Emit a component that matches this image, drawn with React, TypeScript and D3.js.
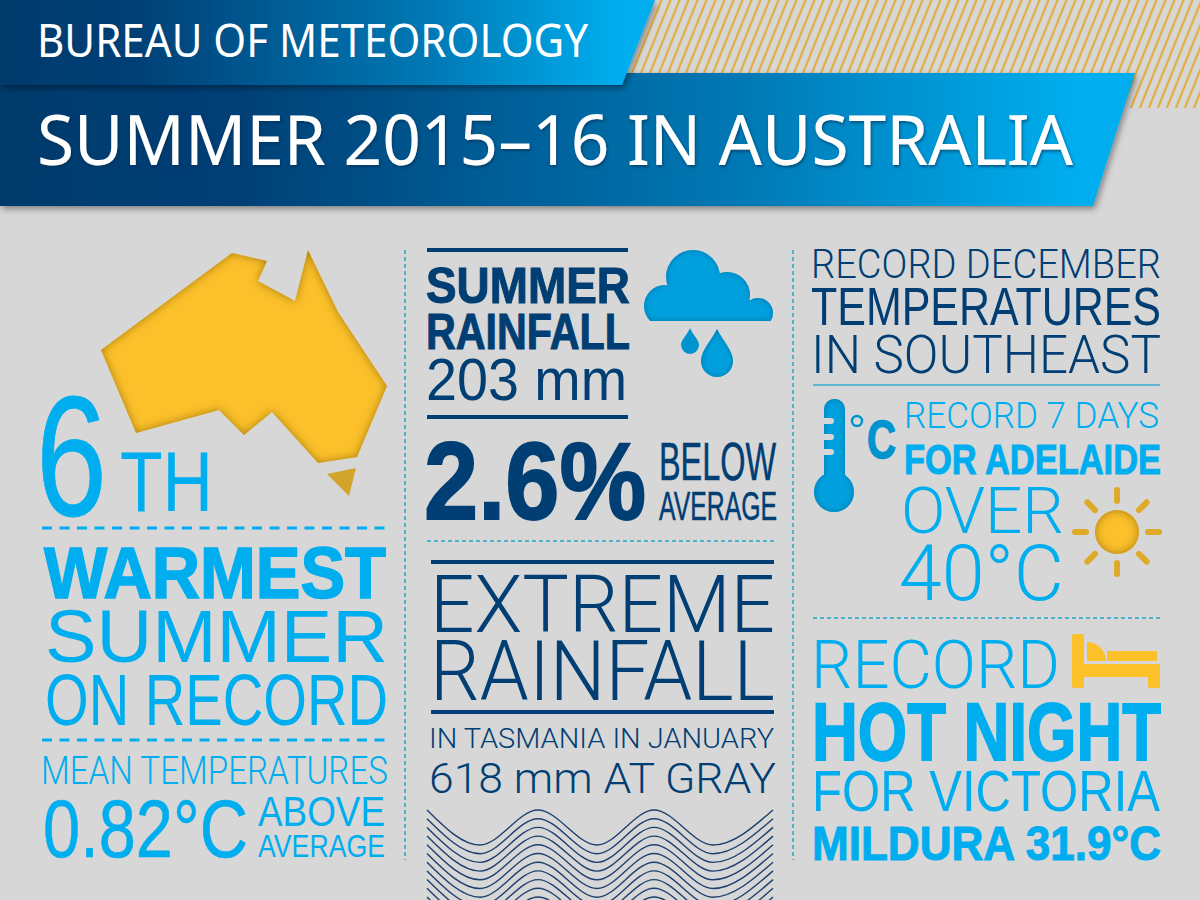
import * as d3 from 'd3';

const headerLines = ['BUREAU OF METEOROLOGY', 'SUMMER 2015–16 IN AUSTRALIA'];
const warmthLines = ['6', 'TH', 'WARMEST', 'SUMMER', 'ON RECORD', 'MEAN TEMPERATURES', '0.82°C', 'ABOVE', 'AVERAGE'];
const rainLines = ['SUMMER', 'RAINFALL', '203 mm', '2.6%', 'BELOW', 'AVERAGE', 'EXTREME', 'RAINFALL', 'IN TASMANIA IN JANUARY', '618 mm AT GRAY'];
const heatLines = ['RECORD DECEMBER', 'TEMPERATURES', 'IN SOUTHEAST', 'C', 'RECORD 7 DAYS', 'FOR ADELAIDE', 'OVER', '40°C', 'RECORD', 'HOT NIGHT', 'FOR VICTORIA', 'MILDURA 31.9°C'];

// icon outlines
const mainland: [number, number][] = [[232, 253], [267, 261], [258, 281], [295, 301], [308, 250], [338, 312], [387, 386], [357, 457], [318, 463], [272, 412], [244, 435], [219, 410], [136, 433], [101, 350]];
const tasmania: [number, number][] = [[327, 474], [356, 468], [349, 496]];
const cloudBumps: [number, number, number][] = [[665, 306, 21], [693, 277, 27], [727, 295, 23], [758, 313, 15]];
const waveCrests: [number, number][] = [[427, 810], [480, 845], [538, 810], [597, 845], [654, 810], [713, 845], [773, 810]];
const waveOffsets = [0, 8.7, 17.4, 26.1, 34.8, 43.5, 52.2, 60.9, 69.6, 78.3, 87];
const sunRayAngles = [0, 45, 90, 135, 180, 225, 270, 315];
const thermoNotches = [418, 434, 449];

const NAVY = '#003e73';
const SKY = '#00aeef';
const GOLD = '#fbc02a';
const BG = '#d7d7d7';
const SANS = 'Liberation Sans';
const THIN = 'Roboto';
const CAP: Record<string, number> = { [SANS]: 0.716, [THIN]: 0.711, 'Noto Sans': 0.714 };

const outline = d3.line().curve(d3.curveLinearClosed);
const wave = d3.line().curve(d3.curveMonotoneX);

// squeezes a line of text to the box it has in the layout
function Fit({ text, x0, x1, base, top, family = SANS, weight = 400, fill, heavy = 0, filter }: any) {
  const size = (base - top) / CAP[family];
  return (
    <text x={x0} y={base} fontFamily={family} fontWeight={weight} fontSize={size} fill={fill} filter={filter}
      stroke={heavy ? fill : 'none'} strokeWidth={heavy}
      textLength={x1 - x0} lengthAdjust="spacingAndGlyphs">{text}</text>
  );
}

function Dash({ x1, x2, y, w = 1.5, dash = '4 3', color = '#27a6c9' }: any) {
  return <line x1={x1} x2={x2} y1={y} y2={y} stroke={color} strokeWidth={w} strokeDasharray={dash} />;
}

function Sun() {
  const cx = 1117, cy = 532;
  return (
    <g>
      {sunRayAngles.map(a => {
        const r = (a * Math.PI) / 180;
        return <line key={a} x1={cx + 31 * Math.cos(r)} y1={cy + 31 * Math.sin(r)} x2={cx + 42 * Math.cos(r)} y2={cy + 42 * Math.sin(r)}
          stroke="#dfa92a" strokeWidth={6} strokeLinecap="round" />;
      })}
      <circle cx={cx} cy={cy} r={22} fill={GOLD} filter="url(#insetGold)" />
    </g>
  );
}

export default function App() {
  return (
    <>
      <style>{'body{margin:0}'}</style>
      <svg width={1200} height={900} style={{ display: 'block' }}>
        <defs>
          <linearGradient id="band1" x1="0" x2="1" y1="0" y2="0">
            <stop offset="0" stopColor="#003a6c" />
            <stop offset="0.2" stopColor="#003f75" />
            <stop offset="0.65" stopColor="#0078b4" />
            <stop offset="0.95" stopColor="#00aeef" />
          </linearGradient>
          <pattern id="hatch" width={9} height={22} patternUnits="userSpaceOnUse" patternTransform="skewX(-22)">
            <line x1={4.5} x2={4.5} y1={0} y2={22} stroke="#e2a71f" strokeWidth={2} />
          </pattern>
          <clipPath id="cloudClip"><rect x={630} y={240} width={160} height={81} /></clipPath>
          <filter id="shadow" x="-5%" y="-20%" width="110%" height="150%">
            <feDropShadow dx={2} dy={3} stdDeviation={3} floodColor="#000" floodOpacity={0.4} />
          </filter>
          <filter id="textShadow" x="-5%" y="-20%" width="110%" height="150%">
            <feDropShadow dx={1} dy={2} stdDeviation={1.5} floodColor="#002a50" floodOpacity={0.6} />
          </filter>
          <filter id="insetGold" x="-20%" y="-20%" width="140%" height="140%" colorInterpolationFilters="sRGB">
            <feFlood floodColor="#a87c10" result="f" />
            <feComposite in="f" in2="SourceAlpha" operator="out" result="inv" />
            <feGaussianBlur in="inv" stdDeviation={5} result="blur" />
            <feComposite in="blur" in2="SourceAlpha" operator="in" result="inner" />
            <feMerge><feMergeNode in="SourceGraphic" /><feMergeNode in="inner" /></feMerge>
          </filter>
          <filter id="insetBlue" x="-20%" y="-20%" width="140%" height="140%" colorInterpolationFilters="sRGB">
            <feFlood floodColor="#0079b0" result="f" />
            <feComposite in="f" in2="SourceAlpha" operator="out" result="inv" />
            <feGaussianBlur in="inv" stdDeviation={3} result="blur" />
            <feComposite in="blur" in2="SourceAlpha" operator="in" result="inner" />
            <feMerge><feMergeNode in="SourceGraphic" /><feMergeNode in="inner" /></feMerge>
          </filter>
        </defs>

        <rect width={1200} height={900} fill={BG} />

        {/* ── Header ── */}
        <rect x={620} y={0} width={580} height={108} fill="url(#hatch)" />
        <path d="M0,73 L1135,73 L1093,206 L0,206 Z" fill="url(#band1)" filter="url(#shadow)" />
        <path d="M0,0 L655,0 L622,85 L0,85 Z" fill="url(#band1)" filter="url(#shadow)" />
        <Fit text={headerLines[0]} x0={37} x1={588} base={57} top={25} fill="#fff" family="Noto Sans" />
        <Fit text={headerLines[1]} x0={37} x1={1073} base={165} top={115} fill="#fff" family="Noto Sans" filter="url(#textShadow)" />

        {/* ── Column rules ── */}
        <line x1={405} x2={405} y1={250} y2={860} stroke="#27a6c9" strokeWidth={1.5} strokeDasharray="4 3" />
        <line x1={793} x2={793} y1={250} y2={860} stroke="#27a6c9" strokeWidth={1.5} strokeDasharray="4 3" />

        {/* ── Left column ── */}
        <path d={outline(mainland)!} fill={GOLD} filter="url(#insetGold)" />
        <path d={outline(tasmania)!} fill="#d3a42a" />
        <Fit text={warmthLines[0]} x0={36} x1={107} base={515} top={393} heavy={0.8} fill={SKY} />
        <Fit text={warmthLines[1]} x0={120} x1={213} base={511} top={450} fill={SKY} />
        <Dash x1={42} x2={387} y={528} w={3} dash="10 7.5" color={SKY} />
        <Fit text={warmthLines[2]} x0={44} x1={386} base={598} top={546} weight={700} heavy={1.6} fill={SKY} />
        <Fit text={warmthLines[3]} x0={45} x1={388} base={662} top={609} fill={SKY} />
        <Fit text={warmthLines[4]} x0={45} x1={388} base={725} top={673} fill={SKY} />
        <Dash x1={42} x2={387} y={740} w={3} dash="10 7.5" color={SKY} />
        <Fit text={warmthLines[5]} x0={41} x1={388} base={784} top={757} family={THIN} weight={300} fill={SKY} />
        <Fit text={warmthLines[6]} x0={43} x1={248} base={857} top={798} fill={SKY} heavy={0.6} />
        <Fit text={warmthLines[7]} x0={258} x1={385} base={826} top={796} fill={SKY} />
        <Fit text={warmthLines[8]} x0={258} x1={385} base={857} top={834} fill={SKY} />

        {/* ── Middle column ── */}
        <rect x={427} y={248} width={201} height={4} fill={NAVY} />
        <Fit text={rainLines[0]} x0={426} x1={630} base={303} top={267} weight={700} heavy={1} fill={NAVY} />
        <Fit text={rainLines[1]} x0={426} x1={630} base={349} top={313} weight={700} heavy={1} fill={NAVY} />
        <Fit text={rainLines[2]} x0={426} x1={627} base={400} top={358} fill={NAVY} />
        <rect x={427} y={415} width={201} height={4} fill={NAVY} />
        <g filter="url(#insetBlue)">
          <g clipPath="url(#cloudClip)">
            {cloudBumps.map(([cx, cy, r]) => <circle key={cx} cx={cx} cy={cy} r={r} fill="#00a0de" />)}
            <rect x={660} y={300} width={100} height={21} fill="#00a0de" />
          </g>
        </g>
        <path d="M690,328 C693,335 699,340 699,345 A8.7,8.7 0 0 1 681,345 C681,340 687,335 690,328 Z" fill="#0094cf" />
        <path d="M717,329 C722,340 733,350 733,361 A16,16 0 0 1 701,361 C701,350 712,340 717,329 Z" fill="#00a0de" filter="url(#insetBlue)" />
        <Fit text={rainLines[3]} x0={424} x1={646} base={519} top={441} weight={700} heavy={1.8} fill={NAVY} />
        <Fit text={rainLines[4]} x0={659} x1={776} base={480} top={442} heavy={0.5} fill={NAVY} />
        <Fit text={rainLines[5]} x0={659} x1={777} base={520} top={491} heavy={0.5} fill={NAVY} />
        <Dash x1={427} x2={775} y={541} />
        <rect x={431} y={560} width={343} height={4} fill={NAVY} />
        <Fit text={rainLines[6]} x0={430} x1={775} base={632} top={576} family={THIN} weight={300} fill={NAVY} />
        <Fit text={rainLines[7]} x0={430} x1={775} base={700} top={641} family={THIN} weight={300} fill={NAVY} />
        <rect x={431} y={710} width={343} height={4} fill={NAVY} />
        <Fit text={rainLines[8]} x0={429} x1={774} base={748} top={728} family={THIN} weight={300} fill={NAVY} />
        <Fit text={rainLines[9]} x0={429} x1={776} base={793} top={763} family={THIN} weight={300} fill={NAVY} />
        {waveOffsets.map(off => (
          <path key={off} d={wave(waveCrests.map(([x, y]) => [x, y + off] as [number, number]))!} fill="none" stroke="#1d3f6e" strokeWidth={1.4} />
        ))}

        {/* ── Right column ── */}
        <Fit text={heatLines[0]} x0={811} x1={1161} base={278} top={249} family={THIN} weight={300} fill={NAVY} />
        <Fit text={heatLines[1]} x0={811} x1={1161} base={325} top={286} fill={NAVY} />
        <Fit text={heatLines[2]} x0={811} x1={1161} base={373} top={335} family={THIN} weight={300} fill={NAVY} />
        <line x1={813} x2={1160} y1={385} y2={385} stroke="#3aa8cf" strokeWidth={1.5} />

        <g filter="url(#insetBlue)">
          <rect x={824} y={399} width={21} height={90} rx={10} fill="#00a0de" />
          <circle cx={834} cy={492} r={20} fill="#00a0de" />
        </g>
        {thermoNotches.map(y => <rect key={y} x={821} y={y} width={13} height={6} rx={3} fill={BG} />)}
        <circle cx={857} cy={421} r={5} fill="none" stroke="#0094cf" strokeWidth={2.5} />
        <Fit text={heatLines[3]} x0={867} x1={896} base={458} top={419} weight={700} heavy={1.4} fill="#0094cf" />

        <Fit text={heatLines[4]} x0={904} x1={1159} base={428} top={402} family={THIN} weight={300} fill={SKY} />
        <Fit text={heatLines[5]} x0={904} x1={1161} base={474} top={443} weight={700} heavy={1} fill={SKY} />
        <Fit text={heatLines[6]} x0={901} x1={1064} base={533} top={487} family={THIN} weight={300} fill={SKY} />
        <Fit text={heatLines[7]} x0={899} x1={1064} base={600} top={545} family={THIN} weight={300} fill={SKY} />
        <Sun />
        <Dash x1={813} x2={1160} y={618} />
        <Fit text={heatLines[8]} x0={811} x1={1060} base={688} top={640} family={THIN} weight={300} fill={SKY} />
        <g fill={GOLD}>
          <rect x={1072} y={634} width={12} height={54} rx={2} />
          <rect x={1072} y={664} width={88} height={13} rx={2} />
          <rect x={1148} y={664} width={12} height={24} rx={2} />
          <path d="M1087,642 A19,19 0 0 1 1106,661 L1087,661 Z" />
          <rect x={1107} y={651} width={50} height={10} rx={1} />
        </g>
        <Fit text={heatLines[9]} x0={812} x1={1161} base={760} top={701} weight={700} heavy={1.8} fill={SKY} />
        <Fit text={heatLines[10]} x0={812} x1={1160} base={811} top={770} fill={SKY} />
        <Fit text={heatLines[11]} x0={812} x1={1161} base={860} top={826} weight={700} heavy={1} fill={SKY} />
      </svg>
    </>
  );
}
